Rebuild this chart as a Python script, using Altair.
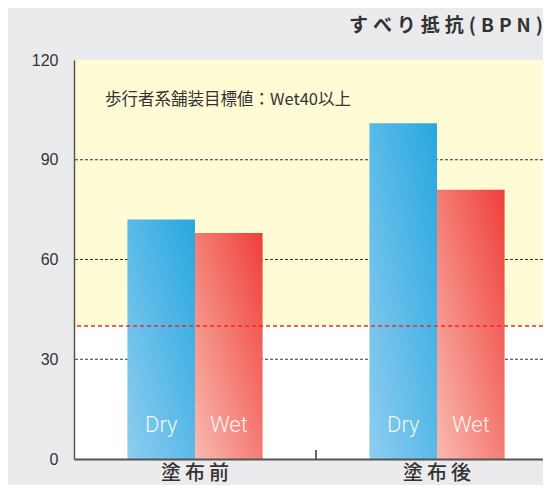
import altair as alt
import pandas as pd

# ---- data ----
groups = ["塗布前", "塗布前", "塗布後", "塗布後"]
types = ["Dry", "Wet", "Dry", "Wet"]
values = [72, 68, 101, 81]
label_level = [8, 8, 8, 8]          # y level of the in-bar labels
y_ticks = [0, 30, 60, 90, 120]
grid_values = [30, 60, 90]
target_value = 40
y_max = 120
group_order = ["塗布前", "塗布後"]
type_order = ["Dry", "Wet"]
SP = "\u2009\u200a"
title_text = SP.join(list("すべり抵抗(BPN)"))
note_text = "歩行者系舗装目標値：Wet40以上"
note_level = [108]
divider_group = ["塗布後"]
divider_top = [2.7]

df = pd.DataFrame({"group": groups, "type": types, "value": values, "lv": label_level})
grid_df = pd.DataFrame({"v": grid_values})
zone_df = pd.DataFrame({"lo": [target_value], "hi": [y_max]})
target_df = pd.DataFrame({"v": [target_value]})
note_df = pd.DataFrame({"t": [note_text], "v": note_level})
div_df = pd.DataFrame({"group": divider_group, "lo": [0], "hi": divider_top})

W, H = 469, 399

xscale = alt.Scale(domain=group_order, range=[0, 484], paddingInner=0, paddingOuter=0)
xoff = alt.Scale(domain=type_order, paddingInner=0, paddingOuter=0.79)
yscale = alt.Scale(domain=[0, y_max], nice=False, zero=True)

yaxis = alt.Axis(values=y_ticks, ticks=False, grid=False, domainColor="#555555",
                 domainWidth=1.5, labelFontSize=16, labelColor="#333333",
                 labelFont="Liberation Sans", labelPadding=16, title=None, zindex=2)
xaxis = alt.Axis(ticks=False, grid=False, domainColor="#555555", domainWidth=2,
                 labelFontSize=20, labelColor="#333333", labelFont="Noto Sans CJK JP",
                 labelFontWeight=500, labelPadding=4, labelAngle=0, title=None, zindex=2,
                 labelExpr="join(split(datum.label, ''), '\u2009')")

zone = alt.Chart(zone_df).mark_rect(color="#fffbd5").encode(
    y=alt.Y("lo:Q", scale=yscale, axis=yaxis), y2="hi:Q")

grid = alt.Chart(grid_df).mark_rule(color="#333333", strokeDash=[3, 2], strokeWidth=1).encode(
    y=alt.Y("v:Q", scale=yscale))

dry_grad = {"gradient": "linear", "x1": 1, "y1": 0, "x2": 0, "y2": 1,
            "stops": [{"offset": 0, "color": "#27a7e0"}, {"offset": 1, "color": "#8ecdf0"}]}
wet_grad = {"gradient": "linear", "x1": 1, "y1": 0, "x2": 0, "y2": 1,
            "stops": [{"offset": 0, "color": "#ef3f3a"}, {"offset": 1, "color": "#f9baaf"}]}

base = alt.Chart(df).encode(
    x=alt.X("group:N", scale=xscale, sort=group_order, axis=xaxis),
    xOffset=alt.XOffset("type:N", scale=xoff, sort=type_order),
)

bars_dry = base.transform_filter(alt.datum.type == "Dry").mark_bar(color=dry_grad).encode(
    y=alt.Y("value:Q", scale=yscale))
bars_wet = base.transform_filter(alt.datum.type == "Wet").mark_bar(color=wet_grad).encode(
    y=alt.Y("value:Q", scale=yscale))

labels = base.mark_text(color="#ffffff", opacity=0.9, fontSize=22, font="Roboto",
                        fontWeight=300, baseline="alphabetic", align="center").encode(
    y=alt.Y("lv:Q", scale=yscale), text="type:N")

target = alt.Chart(target_df).mark_rule(color="#ee2a2e", strokeDash=[4, 3], strokeWidth=1.6).encode(
    y=alt.Y("v:Q", scale=yscale))

note = alt.Chart(note_df).mark_text(align="left", baseline="middle", fontSize=16.5,
                                    font="Noto Sans CJK JP", color="#333333").encode(
    x=alt.value(31), y=alt.Y("v:Q", scale=yscale), text="t:N")

divider = alt.Chart(div_df).mark_rule(color="#666666", strokeWidth=2).encode(
    x=alt.X("group:N", scale=xscale, bandPosition=0),
    y=alt.Y("lo:Q", scale=yscale), y2="hi:Q")

chart = alt.layer(zone, grid, bars_dry, bars_wet, labels, target, note, divider).properties(
    width=W, height=H,
    title=alt.TitleParams(title_text, anchor="end", frame="group", fontSize=19,
                          font="Noto Sans CJK JP", fontWeight=600, color="#333333",
                          offset=16, dx=0),
    background="#ebebed",
    padding={"left": 66, "top": 52, "right": 0, "bottom": 26},
    autosize=alt.AutoSizeParams(type="none"),
).configure_view(fill="#ffffff", stroke=None)

chart.save("out.html", embed_options={"renderer": "svg", "actions": False})
